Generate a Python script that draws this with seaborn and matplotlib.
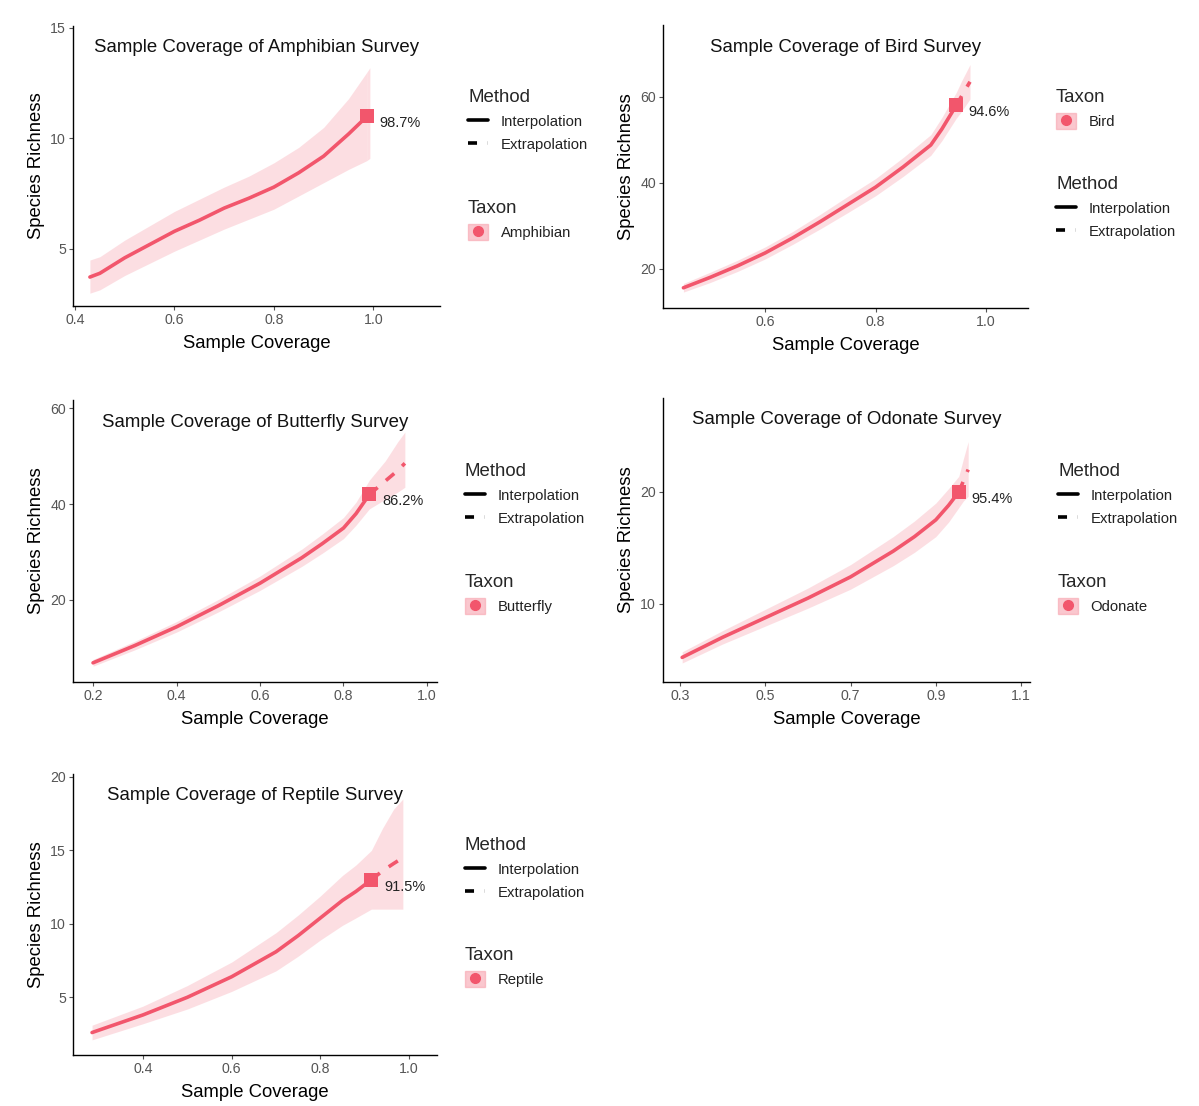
import matplotlib
matplotlib.use("Agg")
import matplotlib.pyplot as plt
from matplotlib.lines import Line2D
from matplotlib.patches import Patch
import seaborn as sns

sns.set_theme(style="white")
plt.rcParams["font.family"] = ["Liberation Sans", "DejaVu Sans"]

LINE = "#F2566C"
BAND = "#F8A3AE"

# ---- data (coverage, richness, band) ----
amph_cov = [0.43, 0.45, 0.5, 0.55, 0.6, 0.65, 0.7, 0.75, 0.8, 0.85, 0.9, 0.95, 0.987]
amph_rich = [3.73, 3.9, 4.6, 5.2, 5.8, 6.3, 6.85, 7.3, 7.8, 8.45, 9.2, 10.2, 11.0]
amph_lo = [3.0, 3.15, 3.8, 4.35, 4.9, 5.4, 5.9, 6.35, 6.8, 7.4, 8.0, 8.6, 9.0]
amph_hi = [4.5, 4.65, 5.4, 6.05, 6.7, 7.25, 7.8, 8.3, 8.9, 9.6, 10.5, 11.8, 13.0]
amph_ext_cov = [0.987, 0.993]
amph_ext_rich = [11.0, 11.3]
amph_ext_lo = [9.0, 9.1]
amph_ext_hi = [13.0, 13.2]

bird_cov = [0.452, 0.5, 0.55, 0.6, 0.65, 0.7, 0.75, 0.8, 0.85, 0.9, 0.92, 0.946]
bird_rich = [15.6, 18.0, 20.7, 23.7, 27.2, 31.0, 35.0, 39.0, 43.7, 48.8, 52.5, 58.0]
bird_lo = [14.6, 16.8, 19.4, 22.3, 25.7, 29.3, 33.1, 37.0, 41.5, 46.4, 49.8, 55.0]
bird_hi = [16.6, 19.2, 22.0, 25.1, 28.7, 32.7, 36.9, 41.0, 45.9, 51.2, 55.2, 61.0]
bird_ext_cov = [0.946, 0.955, 0.963, 0.971]
bird_ext_rich = [58.0, 60.0, 61.8, 63.5]
bird_ext_lo = [55.0, 56.5, 58.0, 59.5]
bird_ext_hi = [61.0, 63.5, 65.5, 67.5]

bfly_cov = [0.2, 0.3, 0.4, 0.5, 0.6, 0.7, 0.75, 0.8, 0.83, 0.862]
bfly_rich = [6.9, 10.5, 14.4, 18.8, 23.5, 28.8, 31.8, 35.0, 38.0, 42.0]
bfly_lo = [6.2, 9.6, 13.3, 17.5, 22.0, 27.0, 29.8, 32.8, 35.6, 39.0]
bfly_hi = [7.6, 11.4, 15.5, 20.1, 25.0, 30.6, 33.8, 37.2, 40.4, 45.0]
bfly_ext_cov = [0.862, 0.9, 0.93, 0.947]
bfly_ext_rich = [42.0, 44.8, 47.0, 48.5]
bfly_ext_lo = [39.0, 41.0, 42.5, 43.5]
bfly_ext_hi = [45.0, 49.0, 53.0, 55.0]

odon_cov = [0.305, 0.4, 0.5, 0.6, 0.7, 0.8, 0.85, 0.9, 0.93, 0.954]
odon_rich = [5.2, 7.0, 8.75, 10.5, 12.4, 14.7, 16.0, 17.5, 18.8, 20.0]
odon_lo = [4.7, 6.4, 8.0, 9.6, 11.3, 13.4, 14.6, 16.0, 17.3, 18.6]
odon_hi = [5.7, 7.6, 9.5, 11.4, 13.5, 16.0, 17.4, 19.0, 20.3, 21.4]
odon_ext_cov = [0.954, 0.965, 0.976]
odon_ext_rich = [20.0, 21.0, 22.0]
odon_ext_lo = [18.6, 19.2, 19.6]
odon_ext_hi = [21.4, 23.0, 24.5]

rept_cov = [0.285, 0.4, 0.5, 0.6, 0.7, 0.75, 0.8, 0.85, 0.88, 0.915]
rept_rich = [2.6, 3.8, 5.0, 6.4, 8.1, 9.2, 10.4, 11.6, 12.2, 13.0]
rept_lo = [2.1, 3.2, 4.2, 5.4, 6.8, 7.8, 8.9, 9.9, 10.4, 11.0]
rept_hi = [3.1, 4.4, 5.8, 7.4, 9.4, 10.6, 11.9, 13.3, 14.0, 15.0]
rept_ext_cov = [0.915, 0.94, 0.965, 0.986]
rept_ext_rich = [13.0, 13.6, 14.1, 14.5]
rept_ext_lo = [11.0, 11.0, 11.0, 11.0]
rept_ext_hi = [15.0, 16.5, 17.8, 18.5]

taxa = ["Amphibian", "Bird", "Butterfly", "Odonate", "Reptile"]
interp = {
    "Amphibian": (amph_cov, amph_rich, amph_lo, amph_hi),
    "Bird": (bird_cov, bird_rich, bird_lo, bird_hi),
    "Butterfly": (bfly_cov, bfly_rich, bfly_lo, bfly_hi),
    "Odonate": (odon_cov, odon_rich, odon_lo, odon_hi),
    "Reptile": (rept_cov, rept_rich, rept_lo, rept_hi),
}
extrap = {
    "Amphibian": (amph_ext_cov, amph_ext_rich, amph_ext_lo, amph_ext_hi),
    "Bird": (bird_ext_cov, bird_ext_rich, bird_ext_lo, bird_ext_hi),
    "Butterfly": (bfly_ext_cov, bfly_ext_rich, bfly_ext_lo, bfly_ext_hi),
    "Odonate": (odon_ext_cov, odon_ext_rich, odon_ext_lo, odon_ext_hi),
    "Reptile": (rept_ext_cov, rept_ext_rich, rept_ext_lo, rept_ext_hi),
}

xticks = {
    "Amphibian": [0.4, 0.6, 0.8, 1.0],
    "Bird": [0.6, 0.8, 1.0],
    "Butterfly": [0.2, 0.4, 0.6, 0.8, 1.0],
    "Odonate": [0.3, 0.5, 0.7, 0.9, 1.1],
    "Reptile": [0.4, 0.6, 0.8, 1.0],
}
yticks = {
    "Amphibian": [5, 10, 15],
    "Bird": [20, 40, 60],
    "Butterfly": [20, 40, 60],
    "Odonate": [10, 20],
    "Reptile": [5, 10, 15, 20],
}

# ---- layout (pixels in a 1199 x 1106 canvas) ----
W, H = 1199, 1106
boxes = {  # left, right, top, bottom
    "Amphibian": (73, 440, 26, 306),
    "Bird": (663, 1028, 25, 308),
    "Butterfly": (73, 437, 400, 682),
    "Odonate": (663, 1030, 398, 682),
    "Reptile": (73, 437, 774, 1055),
}
limits = {
    "Amphibian": ((0.396, 1.134), (2.42, 15.09)),
    "Bird": ((0.415, 1.076), (10.9, 76.7)),
    "Butterfly": ((0.152, 1.024), (2.9, 61.7)),
    "Odonate": ((0.26, 1.121), (3.0, 28.4)),
    "Reptile": ((0.242, 1.063), (1.07, 20.2)),
}
# legend blocks: (title, top pixel)
legends = {
    "Amphibian": [("Method", 89), ("Taxon", 200)],
    "Bird": [("Taxon", 89), ("Method", 176)],
    "Butterfly": [("Method", 463), ("Taxon", 574)],
    "Odonate": [("Method", 463), ("Taxon", 574)],
    "Reptile": [("Method", 837), ("Taxon", 947)],
}

fig = plt.figure(figsize=(W / 100, H / 100), dpi=100)

for taxon in taxa:
    l, r, t, b = boxes[taxon]
    ax = fig.add_axes([l / W, 1 - b / H, (r - l) / W, (b - t) / H])

    cov, rich, lo, hi = interp[taxon]
    ecov, erich, elo, ehi = extrap[taxon]

    ax.fill_between(cov, lo, hi, color=BAND, alpha=0.35, lw=0)
    ax.fill_between(ecov, elo, ehi, color=BAND, alpha=0.35, lw=0)
    sns.lineplot(x=cov, y=rich, ax=ax, color=LINE, linewidth=2.6, sort=False)
    sns.lineplot(x=ecov, y=erich, ax=ax, color=LINE, linewidth=2.6, sort=False,
                 linestyle=(0, (3, 3)))
    sns.scatterplot(x=[cov[-1]], y=[rich[-1]], ax=ax, color=LINE, marker="s",
                    s=110, linewidth=0, zorder=5)
    ax.annotate(f"{cov[-1] * 100:.1f}%", (cov[-1], rich[-1]),
                xytext=(9, -5), textcoords="offset points",
                ha="left", va="center", fontsize=10.5, color="#222222")

    (x0, x1), (y0, y1) = limits[taxon]
    ax.set_xlim(x0, x1)
    ax.set_ylim(y0, y1)
    ax.set_xticks(xticks[taxon])
    ax.set_xticklabels([f"{v:.1f}" for v in xticks[taxon]])
    ax.set_yticks(yticks[taxon])
    ax.set_yticklabels([str(v) for v in yticks[taxon]])
    ax.tick_params(axis="both", direction="out", length=3, width=0.8,
                   colors="#555555", labelsize=10.2, pad=2,
                   bottom=True, left=True)
    for side in ["top", "right"]:
        ax.spines[side].set_visible(False)
    for side in ["left", "bottom"]:
        ax.spines[side].set_color("black")
        ax.spines[side].set_linewidth(1.0)

    ax.set_xlabel("Sample Coverage", fontsize=13.3, color="black", labelpad=6)
    ax.set_ylabel("Species Richness", fontsize=13.3, color="black", labelpad=4)

    ax.text(0.5, 1 - 22 / (b - t), f"Sample Coverage of {taxon} Survey",
            transform=ax.transAxes, ha="center", va="center",
            fontsize=13.4, color="#111111")

    # legends to the right of the panel
    lx = (r + 28) / W
    for title, top in legends[taxon]:
        if title == "Method":
            handles = [Line2D([], [], color="black", lw=2.6),
                       Line2D([], [], color="black", lw=2.6,
                              linestyle=(0, (2.5, 3)))]
            labels = ["Interpolation", "Extrapolation"]
        else:
            handles = [(Patch(facecolor=BAND, edgecolor=BAND, alpha=0.6),
                        Line2D([], [], color=LINE, marker="o", markersize=7,
                               linestyle="none"))]
            labels = [taxon]
        leg = fig.legend(handles, labels, title=title, loc="upper left",
                         bbox_to_anchor=(lx, 1 - top / H), frameon=False,
                         fontsize=10.7, title_fontsize=13.4, alignment="left",
                         handlelength=1.35, handleheight=1.2, handletextpad=0.85,
                         labelspacing=0.5, borderaxespad=0, borderpad=0)
        for txt in leg.get_texts():
            txt.set_color("#222222")

fig.savefig("out.png", dpi=100)
